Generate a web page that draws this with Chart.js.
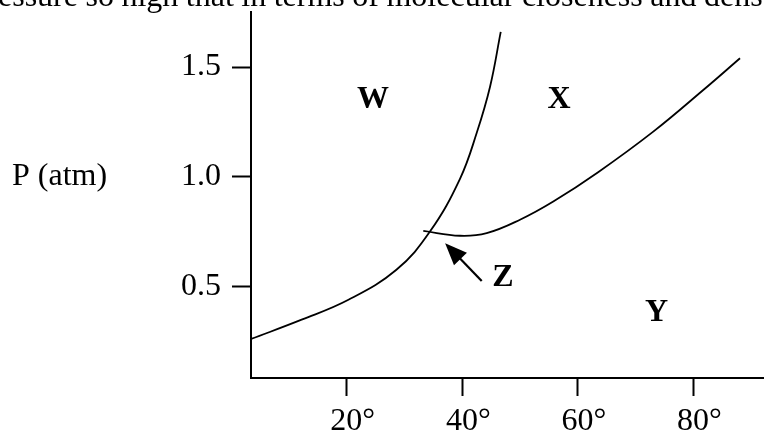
<!DOCTYPE html>
<html>
<head>
<meta charset="utf-8">
<script src="https://cdn.jsdelivr.net/npm/chart.js@4/dist/chart.umd.min.js"></script>
<style>
    html, body { margin: 0; padding: 0; background: #fff; overflow: hidden; }
    #wrap { position: relative; width: 764px; height: 432px; overflow: hidden; }
    #topText {
        position: absolute; left: -2px; top: -21px;
        font: 32px "Liberation Serif", "Times New Roman", serif;
        line-height: 32px; white-space: nowrap; word-spacing: -0.5px; color: #000;
    }
    canvas { position: absolute; left: 0; top: 0; }
</style>
</head>
<body>
<div id="wrap">
    <canvas id="chart" width="764" height="432"></canvas>
    <div id="topText">essure so high that in terms of molecular closeness and dens</div>
</div>
<script>
// Axis ticks
const xTicks = [20, 40, 60, 80];
const yTicks = [0.5, 1.0, 1.5];
const axisTitle = 'P (atm)';

// Left curve (rises steeply past the crossing)
const curveAT = [3.46, 12.2, 20.3, 28.6, 34.4, 39.6, 42.5, 44.8, 46.65];
const curveAP = [0.259, 0.347, 0.438, 0.575, 0.749, 0.99, 1.2, 1.41, 1.66];

// Right curve (dips to a minimum near 40°, then rises)
const curveBT = [33.25, 39.6, 44.22, 49.98, 55.74, 63.5, 73.04, 81.69, 88.05];
const curveBP = [0.752, 0.730, 0.742, 0.803, 0.886, 1.02, 1.205, 1.395, 1.540];

// Region letters
const regionNames = ['W', 'X', 'Y', 'Z'];
const regionT = [24.53, 56.73, 73.62, 47.04];
const regionP = [1.350, 1.350, 0.378, 0.538];

// Arrow from Z to the crossing point (tail, tip)
const arrowT = [43.36, 37.03];
const arrowP = [0.524, 0.696];

const serif = '"Liberation Serif", "Times New Roman", serif';

function toPoints(ts, ps) {
    return ts.map((t, i) => ({ x: t, y: ps[i] }));
}

const annotate = {
    id: 'annotate',
    afterDatasetsDraw(chart) {
        const { ctx, scales: { x, y } } = chart;
        ctx.save();
        ctx.fillStyle = '#000';
        ctx.strokeStyle = '#000';

        ctx.font = 'bold 32px ' + serif;
        ctx.textAlign = 'center';
        ctx.textBaseline = 'middle';
        regionNames.forEach((name, i) => {
            ctx.fillText(name, x.getPixelForValue(regionT[i]), y.getPixelForValue(regionP[i]));
        });

        // arrow
        const x0 = x.getPixelForValue(arrowT[0]), y0 = y.getPixelForValue(arrowP[0]);
        const x1 = x.getPixelForValue(arrowT[1]), y1 = y.getPixelForValue(arrowP[1]);
        const len = Math.hypot(x1 - x0, y1 - y0);
        const ux = (x1 - x0) / len, uy = (y1 - y0) / len;
        const head = 22, half = 9;
        const bx = x1 - ux * head, by = y1 - uy * head;
        ctx.lineWidth = 2.2;
        ctx.beginPath();
        ctx.moveTo(x0, y0);
        ctx.lineTo(bx + ux * 2, by + uy * 2);
        ctx.stroke();
        ctx.beginPath();
        ctx.moveTo(x1, y1);
        ctx.lineTo(bx - uy * half, by + ux * half);
        ctx.lineTo(bx + uy * half, by - ux * half);
        ctx.closePath();
        ctx.fill();

        // axis title, level with the 1.0 tick
        ctx.font = '32px ' + serif;
        ctx.textAlign = 'left';
        ctx.fillText(axisTitle, 12, y.getPixelForValue(1.0));
        ctx.restore();
    }
};

const lineStyle = {
    showLine: true,
    borderColor: '#000',
    borderWidth: 1.8,
    pointRadius: 0,
    fill: false,
    tension: 0.4
};

new Chart(document.getElementById('chart'), {
    type: 'scatter',
    data: {
        datasets: [
            Object.assign({ data: toPoints(curveAT, curveAP) }, lineStyle),
            Object.assign({ data: toPoints(curveBT, curveBP) }, lineStyle)
        ]
    },
    options: {
        responsive: false,
        animation: false,
        layout: { padding: { top: 12, left: 0, right: 0, bottom: 0 } },
        plugins: { legend: { display: false }, tooltip: { enabled: false } },
        scales: {
            x: {
                type: 'linear',
                min: 3.44,
                max: 92.2,
                afterBuildTicks: s => { s.ticks = xTicks.map(v => ({ value: v })); },
                afterFit: s => { s.height = 54; s.paddingLeft = 0; s.paddingRight = 0; },
                border: { display: true, color: '#000', width: 2 },
                grid: { display: true, drawOnChartArea: false, drawTicks: true, tickLength: 18, tickWidth: 2, tickColor: '#000' },
                ticks: {
                    color: '#000',
                    font: { family: serif, size: 32 },
                    padding: 6,
                    labelOffset: 6,
                    maxRotation: 0,
                    autoSkip: false,
                    callback: v => v + '°'
                }
            },
            y: {
                type: 'linear',
                min: 0.081,
                max: 1.751,
                afterBuildTicks: s => { s.ticks = yTicks.map(v => ({ value: v })); },
                afterFit: s => { s.width = 251; s.paddingTop = 0; s.paddingBottom = 0; },
                border: { display: true, color: '#000', width: 2 },
                grid: { display: true, drawOnChartArea: false, drawTicks: true, tickLength: 19, tickWidth: 2, tickColor: '#000' },
                ticks: {
                    color: '#000',
                    font: { family: serif, size: 32 },
                    padding: 11,
                    autoSkip: false,
                    callback: v => v.toFixed(1)
                }
            }
        }
    },
    plugins: [annotate]
});
</script>
</body>
</html>
